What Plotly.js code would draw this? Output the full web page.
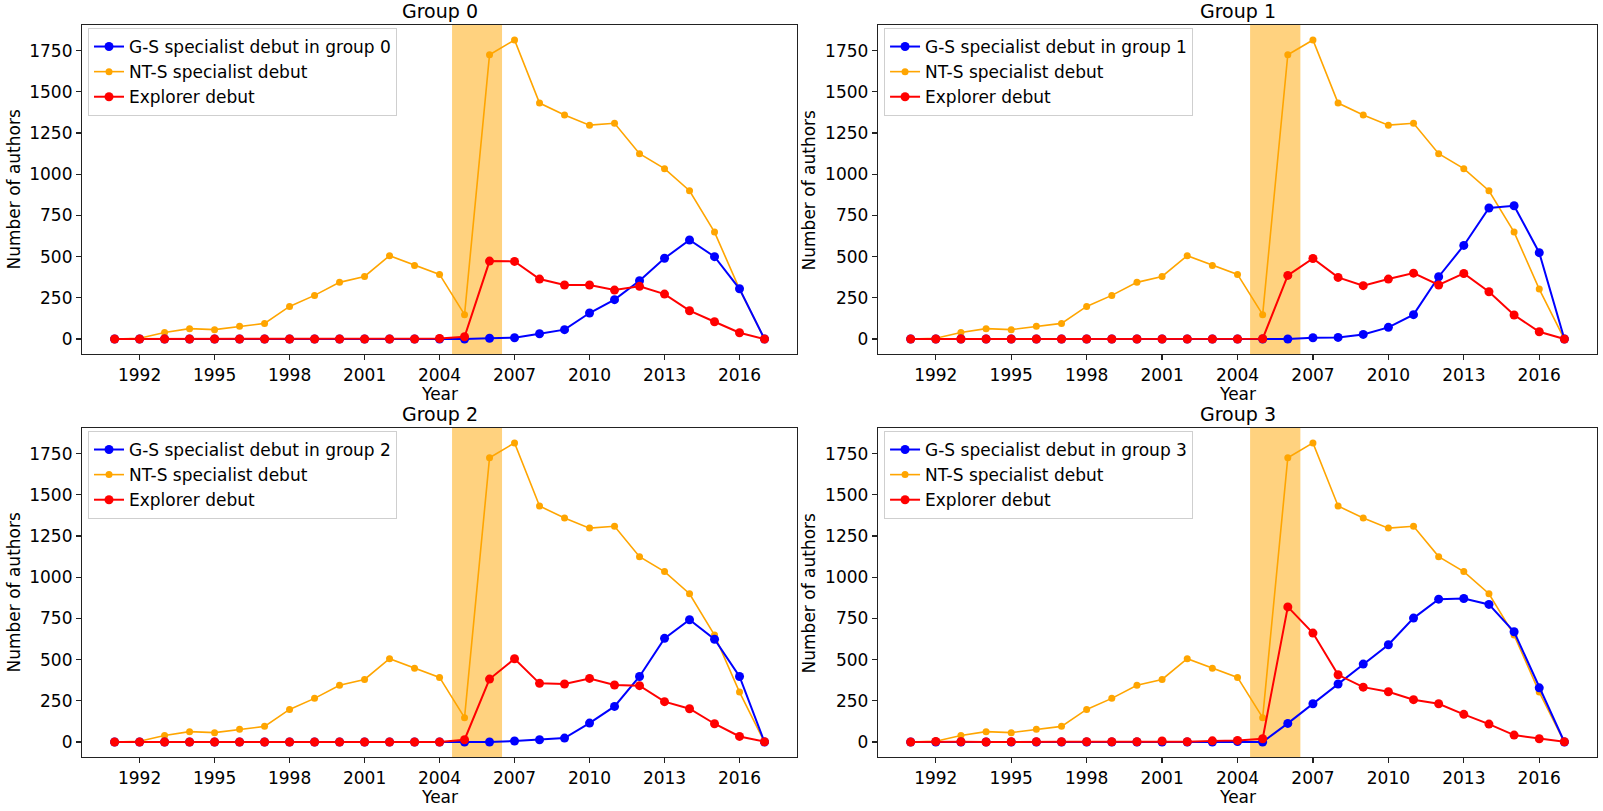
<!DOCTYPE html>
<html><head><meta charset="utf-8">
<script src="https://cdn.plot.ly/plotly-3.0.1.min.js"></script>
<style>html,body{margin:0;padding:0;background:#fff;} #chart{width:1603px;height:811px;}</style>
</head><body><div id="chart"></div>
<script>
const years = [1991,1992,1993,1994,1995,1996,1997,1998,1999,2000,2001,2002,2003,2004,2005,2006,2007,2008,2009,2010,2011,2012,2013,2014,2015,2016,2017];
const tickYears = [1992,1995,1998,2001,2004,2007,2010,2013,2016];
const yTicks = [0,250,500,750,1000,1250,1500,1750];
const groups = ["Group 0","Group 1","Group 2","Group 3"];
const shadeStart = 2004.5;
const shadeEnd = 2006.5;

const ntsDebut = [0,5,40,63,57,77,95,198,265,344,380,506,447,392,148,1725,1815,1432,1359,1298,1309,1125,1034,900,649,303,0];

const gsGroup0 = [0,0,0,0,0,0,0,0,0,0,0,0,0,0,0,5,8,32,57,158,239,354,490,601,500,305,0];
const gsGroup1 = [0,0,0,0,0,0,0,0,0,0,0,0,0,0,0,0,8,10,28,71,148,378,568,795,809,524,0];
const gsGroup2 = [0,0,0,0,0,0,0,0,0,0,0,0,0,0,0,0,6,14,24,115,216,398,629,742,624,398,0];
const gsGroup3 = [0,0,0,0,0,0,0,0,0,0,0,0,0,3,0,113,232,352,473,590,752,867,871,835,669,329,0];

const explorerGroup0 = [0,0,0,0,0,0,0,0,0,0,0,0,0,3,14,473,471,364,328,328,297,320,273,172,105,38,0];
const explorerGroup1 = [0,0,0,0,0,0,0,0,0,0,0,0,0,0,2,386,489,374,324,364,400,328,398,287,146,44,0];
const explorerGroup2 = [0,0,0,0,0,0,0,0,0,0,0,0,0,0,14,382,505,356,352,386,346,342,245,202,111,34,2];
const explorerGroup3 = [0,3,2,0,2,2,2,2,2,2,6,2,7,10,20,820,661,408,333,305,257,232,168,109,42,20,2];

const gsAll = [gsGroup0, gsGroup1, gsGroup2, gsGroup3];
const explorerAll = [explorerGroup0, explorerGroup1, explorerGroup2, explorerGroup3];

const FONT = "DejaVu Sans, Liberation Sans, sans-serif";
const xDomains = [[0.0512,0.4972],[0.5477,0.9963],[0.0512,0.4972],[0.5477,0.9963]];
const yDomains = [[0.5635,0.9692],[0.5635,0.9692],[0.0666,0.4723],[0.0666,0.4723]];
const legendPos = [[0.0549,0.9655],[0.5515,0.9655],[0.0549,0.4686],[0.5515,0.4686]];

const traces = [];
const layout = {
  width: 1603, height: 811,
  margin: {l:0, r:0, t:0, b:0},
  paper_bgcolor: "#ffffff", plot_bgcolor: "#ffffff",
  font: {family: FONT, size: 17, color: "#000"},
  showlegend: true,
  annotations: [], shapes: []
};

groups.forEach((g, i) => {
  const n = i === 0 ? "" : String(i + 1);
  const xa = "x" + n, ya = "y" + n;
  const leg = "legend" + n;
  traces.push({
    x: years, y: ntsDebut, xaxis: xa, yaxis: ya, legend: leg, legendrank: 2,
    type: "scatter", mode: "lines+markers", name: "NT-S specialist debut",
    line: {color: "orange", width: 1.6}, marker: {color: "orange", size: 7}
  });
  traces.push({
    x: years, y: gsAll[i], xaxis: xa, yaxis: ya, legend: leg, legendrank: 1,
    type: "scatter", mode: "lines+markers", name: "G-S specialist debut in group " + i,
    line: {color: "blue", width: 2}, marker: {color: "blue", size: 9}
  });
  traces.push({
    x: years, y: explorerAll[i], xaxis: xa, yaxis: ya, legend: leg, legendrank: 3,
    type: "scatter", mode: "lines+markers", name: "Explorer debut",
    line: {color: "red", width: 2}, marker: {color: "red", size: 9}
  });

  const axBase = {
    showgrid: false, zeroline: false, showline: true, mirror: true,
    linecolor: "#222", linewidth: 1.2, ticks: "outside", ticklen: 5,
    tickwidth: 1.2, tickcolor: "#222", tickfont: {family: FONT, size: 17, color: "#000"}
  };
  layout["xaxis" + n] = Object.assign({}, axBase, {
    domain: xDomains[i], anchor: ya, range: [1989.7, 2018.3],
    tickmode: "array", tickvals: tickYears, ticktext: tickYears.map(String)
  });
  layout["yaxis" + n] = Object.assign({}, axBase, {
    domain: yDomains[i], anchor: xa, range: [-90.75, 1905.75],
    tickmode: "array", tickvals: yTicks, ticktext: yTicks.map(String)
  });
  layout[leg] = {
    x: legendPos[i][0], y: legendPos[i][1], xref: "paper", yref: "paper",
    xanchor: "left", yanchor: "top",
    bgcolor: "rgba(255,255,255,0.8)", bordercolor: "#cfcfcf", borderwidth: 1,
    font: {family: FONT, size: 17, color: "#000"}, tracegroupgap: 0
  };
  layout.shapes.push({
    type: "rect", xref: xa, yref: ya + " domain", x0: shadeStart, x1: shadeEnd,
    y0: 0, y1: 1, fillcolor: "rgba(255,165,0,0.5)", line: {width: 0}, layer: "below"
  });
  layout.annotations.push({
    text: g, xref: xa + " domain", yref: ya + " domain", x: 0.5, y: 1,
    xanchor: "center", yanchor: "bottom", yshift: 1, showarrow: false,
    font: {family: FONT, size: 19, color: "#000"}
  });
  layout.annotations.push({
    text: "Year", xref: xa + " domain", yref: ya + " domain", x: 0.5, y: 0,
    xanchor: "center", yanchor: "top", yshift: -28, showarrow: false,
    font: {family: FONT, size: 17, color: "#000"}
  });
  layout.annotations.push({
    text: "Number of authors", xref: xa + " domain", yref: ya + " domain", x: 0, y: 0.5,
    xanchor: "center", yanchor: "middle", xshift: -68, textangle: -90, showarrow: false,
    font: {family: FONT, size: 17, color: "#000"}
  });
});

Plotly.newPlot("chart", traces, layout, {displayModeBar: false, staticPlot: true});
</script>
</body></html>
